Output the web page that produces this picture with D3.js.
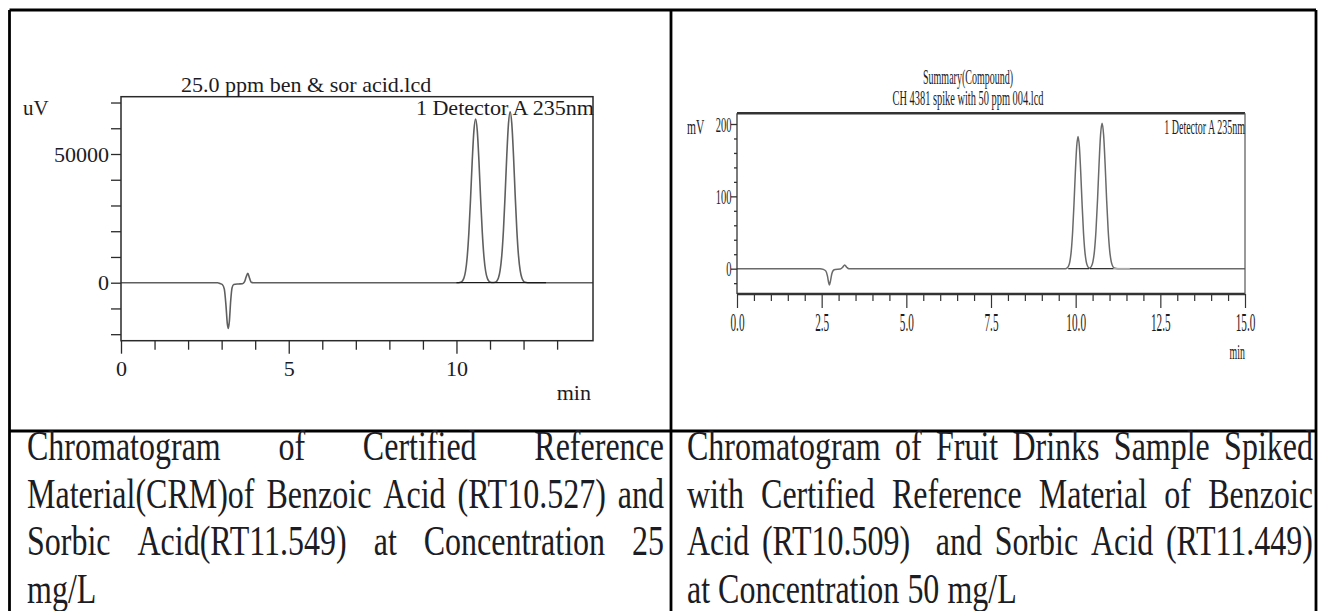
<!DOCTYPE html>
<html>
<head>
<meta charset="utf-8">
<script src="https://cdn.jsdelivr.net/npm/d3@7"></script>
<style>
  body { margin: 0; background: #fff; }
  text { font-family: "Liberation Serif", "Times New Roman", serif; fill: #1c1c24; }
</style>
</head>
<body>
<svg id="page" width="1321" height="611"></svg>
<script>
//------------------------------DATA------------------------------//
// left: CRM standard 25 ppm, [time (min), signal (uV)]
const crmTrace = [
  [0, 0], [2.88, 0], [2.95, -300], [3.02, -700], [3.08, -2500], [3.13, -9000], [3.17, -16000],
  [3.2, -17800], [3.23, -15000], [3.27, -7000], [3.31, -2000], [3.36, -700], [3.5, -500],
  [3.62, -400], [3.68, 300], [3.73, 2200], [3.78, 3650], [3.83, 1800], [3.88, 200], [3.95, 0],
  [10.07, 0], [10.12, 160], [10.17, 560], [10.22, 1700], [10.27, 4450], [10.32, 10000],
  [10.37, 19500], [10.42, 32700], [10.47, 47300], [10.52, 59100], [10.57, 63600], [10.62, 59100],
  [10.67, 47300], [10.72, 32700], [10.77, 19500], [10.82, 10000], [10.87, 4450], [10.92, 1700],
  [10.97, 560], [11.02, 160], [11.08, 80], [11.15, 170], [11.2, 580], [11.25, 1800], [11.3, 4650],
  [11.35, 10400], [11.4, 20300], [11.45, 34100], [11.5, 49400], [11.55, 61700], [11.6, 66400],
  [11.65, 61700], [11.7, 49400], [11.75, 34100], [11.8, 20300], [11.85, 10400], [11.9, 4650],
  [11.95, 1800], [12.0, 580], [12.05, 170], [12.12, 0], [14.07, 0]
];
const crmIntegration = [[10.0, 12.67]];
const crmXDomain = [0, 14.07];
const crmYDomain = [-22530, 72260];
const crmXTicks = [0, 1, 2, 3, 4, 5, 6, 7, 8, 9, 10, 11, 12, 13];
const crmXLabels = [0, 5, 10];
const crmYTicks = [-20000, -10000, 0, 10000, 20000, 30000, 40000, 50000, 60000, 70000];
const crmYLabels = [0, 50000];

// right: spiked fruit drink, [time (min), signal (mV)]
const spikeTrace = [
  [0, 0], [2.45, 0], [2.55, -1], [2.62, -3], [2.67, -10], [2.71, -20], [2.73, -22.5], [2.76, -17],
  [2.8, -7], [2.85, -2], [2.9, -1], [3.05, -0.5], [3.12, 2], [3.18, 5], [3.24, 2], [3.3, 0],
  [9.7, 0], [9.75, 1.1], [9.79, 3.6], [9.83, 10.2], [9.87, 24.7], [9.91, 50.8], [9.95, 88.9],
  [9.99, 132.6], [10.03, 168.5], [10.07, 182.6], [10.11, 168.5], [10.15, 132.6], [10.19, 88.9],
  [10.23, 50.8], [10.27, 24.7], [10.31, 10.2], [10.35, 3.6], [10.39, 1.1], [10.42, 0.9],
  [10.465, 3.3], [10.51, 9.8], [10.555, 24.7], [10.6, 52.7], [10.645, 94.7], [10.69, 143.9],
  [10.735, 184.9], [10.78, 201], [10.825, 184.9], [10.87, 143.9], [10.915, 94.7], [10.96, 52.7],
  [11.005, 24.7], [11.05, 9.8], [11.095, 3.3], [11.14, 0.9], [11.25, 0], [15, 0]
];
const spikeIntegration = [[9.78, 10.4], [10.42, 11.12]];
const spikeTail = [[11.12, 11.6]];
const spikeXDomain = [0, 15];
const spikeYDomain = [-35, 214.8];
const spikeXTicks = [0, 0.5, 1, 1.5, 2, 2.5, 3, 3.5, 4, 4.5, 5, 5.5, 6, 6.5, 7, 7.5, 8, 8.5, 9, 9.5,
  10, 10.5, 11, 11.5, 12, 12.5, 13, 13.5, 14, 14.5, 15];
const spikeXLabels = [0, 2.5, 5, 7.5, 10, 12.5, 15];
const spikeYTicks = [-20, 0, 20, 40, 60, 80, 100, 120, 140, 160, 180, 200];
const spikeYLabels = [0, 100, 200];

const leftCaption = [
  "Chromatogram of Certified Reference",
  "Material(CRM)of Benzoic Acid (RT10.527) and",
  "Sorbic Acid(RT11.549) at Concentration 25",
  "mg/L"
];
const rightCaption = [
  "Chromatogram of Fruit Drinks Sample Spiked",
  "with Certified Reference Material of Benzoic",
  "Acid (RT10.509)  and Sorbic Acid (RT11.449)",
  "at Concentration 50 mg/L"
];

//----------------------------LAYOUT------------------------------//
const svg = d3.select("#page");
const table = { left: 9.5, mid: 671, right: 1316, top: 10, divider: 431, bottom: 611 };
const crmBox = { left: 121, right: 593, top: 96.7, bottom: 340.7 };
const spikeBox = { left: 737, right: 1245, top: 113.3, bottom: 294 };

// helper: text with a horizontal stretch (the scanned fonts are not Times-proportioned)
function label(g, x, y, str, size, anchor, sx) {
  return g.append("text")
    .attr("transform", "translate(" + x + "," + y + ") scale(" + sx + ",1)")
    .attr("text-anchor", anchor)
    .style("font-size", size + "px")
    .text(str);
}

//-------------------------LEFT CHART-----------------------------//
const gL = svg.append("g");
const lx = 1.05;
const crmX = d3.scaleLinear().domain(crmXDomain).range([crmBox.left, crmBox.right]);
const crmY = d3.scaleLinear().domain(crmYDomain).range([crmBox.bottom, crmBox.top]);

const crmLine = d3.line().curve(d3.curveMonotoneX)
  .x(d => crmX(d[0])).y(d => crmY(d[1]));

gL.append("path").datum(crmTrace)
  .attr("d", crmLine).attr("fill", "none")
  .attr("stroke", "#5f5f5f").attr("stroke-width", 1.6);

gL.selectAll(".integ").data(crmIntegration).enter().append("line")
  .attr("x1", d => crmX(d[0])).attr("x2", d => crmX(d[1]))
  .attr("y1", crmY(0)).attr("y2", crmY(0))
  .attr("stroke", "#1a1a1a").attr("stroke-width", 1.3);

gL.append("rect")
  .attr("x", crmBox.left).attr("y", crmBox.top)
  .attr("width", crmBox.right - crmBox.left).attr("height", crmBox.bottom - crmBox.top)
  .attr("fill", "none").attr("stroke", "#2a2a2a").attr("stroke-width", 1.5);

const crmYAxis = d3.axisLeft(crmY).tickValues(crmYTicks).tickSize(10).tickSizeOuter(0)
  .tickFormat(d => crmYLabels.includes(d) ? d : "");
const yl = gL.append("g").attr("transform", "translate(" + crmBox.left + ",0)").call(crmYAxis);
yl.select(".domain").remove();
yl.selectAll("line").attr("stroke", "#2a2a2a").attr("stroke-width", 1.3);
yl.selectAll("text")
  .attr("x", -12 / lx).attr("dy", "0.34em")
  .attr("transform", "scale(" + lx + ",1)")
  .style("font-size", "21px").style("font-family", "Liberation Serif").attr("fill", "#1c1c24");

const crmXAxis = d3.axisBottom(crmX).tickValues(crmXTicks).tickSize(9).tickSizeOuter(0)
  .tickFormat(d => crmXLabels.includes(d) ? d : "");
const xl = gL.append("g").attr("transform", "translate(0," + crmBox.bottom + ")").call(crmXAxis);
xl.select(".domain").remove();
xl.selectAll("line").attr("stroke", "#2a2a2a").attr("stroke-width", 1.3)
  .attr("y2", d => crmXLabels.includes(d) ? 13 : 9);
xl.selectAll("text")
  .attr("y", 35).attr("dy", 0)
  .attr("transform", "scale(" + lx + ",1)")
  .style("font-size", "21px").style("font-family", "Liberation Serif").attr("fill", "#1c1c24");

label(gL, 181, 92, "25.0 ppm ben & sor acid.lcd", 21, "start", lx);
label(gL, crmBox.right + 1, 115, "1 Detector A 235nm", 21, "end", lx);
label(gL, 23, 115, "uV", 20, "start", lx);
label(gL, 591, 400, "min", 21, "end", lx);

//-------------------------RIGHT CHART----------------------------//
const gR = svg.append("g");
const spX = d3.scaleLinear().domain(spikeXDomain).range([spikeBox.left, spikeBox.right]);
const spY = d3.scaleLinear().domain(spikeYDomain).range([spikeBox.bottom, spikeBox.top]);
const sq = 0.48;

const spLine = d3.line().curve(d3.curveMonotoneX)
  .x(d => spX(d[0])).y(d => spY(d[1]));

gR.append("path").datum(spikeTrace)
  .attr("d", spLine).attr("fill", "none")
  .attr("stroke", "#6a6a6a").attr("stroke-width", 1.5);

gR.selectAll(".integ").data(spikeIntegration).enter().append("line")
  .attr("x1", d => spX(d[0])).attr("x2", d => spX(d[1]))
  .attr("y1", spY(0)).attr("y2", spY(0))
  .attr("stroke", "#222").attr("stroke-width", 1.2);
gR.selectAll(".tail").data(spikeTail).enter().append("line")
  .attr("x1", d => spX(d[0])).attr("x2", d => spX(d[1]))
  .attr("y1", spY(0)).attr("y2", spY(0))
  .attr("stroke", "#aaa").attr("stroke-width", 1.6);

// frame: heavy top/bottom, light right side
gR.append("line").attr("x1", spikeBox.left).attr("x2", spikeBox.right)
  .attr("y1", spikeBox.top).attr("y2", spikeBox.top).attr("stroke", "#333").attr("stroke-width", 2.4);
gR.append("line").attr("x1", spikeBox.left).attr("x2", spikeBox.right)
  .attr("y1", spikeBox.bottom).attr("y2", spikeBox.bottom).attr("stroke", "#333").attr("stroke-width", 2.4);
gR.append("line").attr("x1", spikeBox.right).attr("x2", spikeBox.right)
  .attr("y1", spikeBox.top).attr("y2", spikeBox.bottom).attr("stroke", "#555").attr("stroke-width", 1.2);
gR.append("line").attr("x1", spikeBox.left).attr("x2", spikeBox.left)
  .attr("y1", spikeBox.top).attr("y2", spikeBox.bottom).attr("stroke", "#333").attr("stroke-width", 1.3);

const spYAxis = d3.axisLeft(spY).tickValues(spikeYTicks).tickSize(3).tickSizeOuter(0)
  .tickFormat(d => spikeYLabels.includes(d) ? d : "");
const yr = gR.append("g").attr("transform", "translate(" + spikeBox.left + ",0)").call(spYAxis);
yr.select(".domain").remove();
yr.selectAll("line").attr("stroke", "#333").attr("stroke-width", 1.3)
  .attr("x2", d => spikeYLabels.includes(d) ? -6 : -3);
yr.selectAll("text")
  .attr("x", -5.5 / 0.5).attr("dy", "0.34em")
  .attr("transform", "scale(0.5,1)")
  .style("font-size", "21px").style("font-family", "Liberation Serif").attr("fill", "#1c1c24");

const spXAxis = d3.axisBottom(spX).tickValues(spikeXTicks).tickSize(7).tickSizeOuter(0)
  .tickFormat(d => spikeXLabels.includes(d) ? d3.format(".1f")(d) : "");
const xr = gR.append("g").attr("transform", "translate(0," + spikeBox.bottom + ")").call(spXAxis);
xr.select(".domain").remove();
xr.selectAll("line").attr("stroke", "#333").attr("stroke-width", 1.2)
  .attr("y2", d => spikeXLabels.includes(d) ? 14 : 7);
xr.selectAll("text")
  .attr("y", 37).attr("dy", 0)
  .attr("transform", "scale(0.45,1)")
  .style("font-size", "25px").style("font-family", "Liberation Serif").attr("fill", "#1c1c24");

const titleX = (spikeBox.left + spikeBox.right) / 2 - 23;
label(gR, titleX, 83.5, "Summary(Compound)", 20, "middle", 0.5);
label(gR, titleX, 105, "CH 4381 spike with 50 ppm 004.lcd", 20, "middle", 0.52);
label(gR, spikeBox.right, 134, "1 Detector A 235nm", 20, "end", 0.5);
label(gR, 687, 134, "mV", 21, "start", 0.55);
label(gR, spikeBox.right, 359, "min", 22, "end", 0.45);

//---------------------------TABLE--------------------------------//
const gT = svg.append("g").attr("stroke", "#000").attr("stroke-width", 2.8);
gT.append("line").attr("x1", table.left).attr("x2", table.right).attr("y1", table.top).attr("y2", table.top);
gT.append("line").attr("x1", table.left).attr("x2", table.right).attr("y1", table.divider).attr("y2", table.divider);
[table.left, table.mid, table.right].forEach(x => {
  gT.append("line").attr("x1", x).attr("x2", x).attr("y1", table.top).attr("y2", table.bottom);
});

//--------------------------CAPTIONS------------------------------//
const capSize = 32;
const capStretch = 1.3;          // the scan is taller than it is wide
const capBase = table.divider + 29;
const capPitch = 47.5;
const gC = svg.append("g").style("font-size", capSize + "px");

// justified lines, last line left aligned (as in the word processor)
function caption(lines, x0, x1) {
  const probe = gC.append("text").text("a a");
  const probe2 = gC.append("text").text("aa");
  const spaceW = probe.node().getComputedTextLength() - probe2.node().getComputedTextLength();
  probe.remove(); probe2.remove();
  lines.forEach((line, i) => {
    const y = capBase + i * capPitch;
    const tokens = line.split(" ");
    const nodes = tokens.map(t => gC.append("text").text(t));
    const widths = nodes.map(n => n.node().getComputedTextLength());
    const isLast = i === lines.length - 1;
    const gap = isLast ? spaceW : (x1 - x0 - d3.sum(widths)) / (tokens.length - 1);
    let x = x0;
    nodes.forEach((n, k) => {
      n.attr("transform", "translate(" + x + "," + y + ") scale(1," + capStretch + ")");
      x += widths[k] + gap;
    });
  });
}
caption(leftCaption, 27, 664);
caption(rightCaption, 687, 1313);
</script>
</body>
</html>
